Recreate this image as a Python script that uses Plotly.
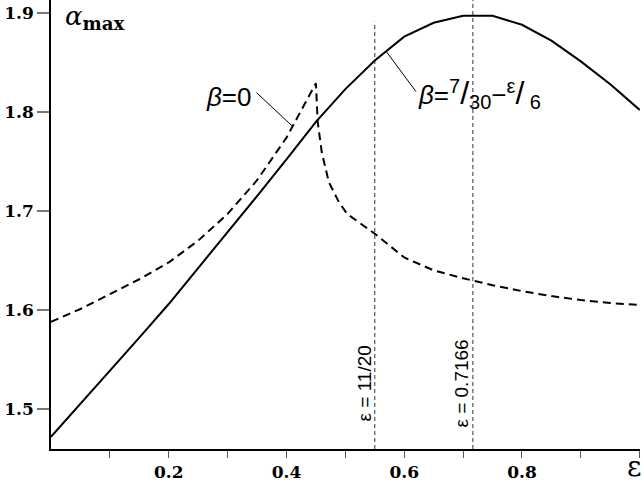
import plotly.graph_objects as go

# beta = 7/30 - eps/6 (solid)
eps_solid = [0, 0.05, 0.1, 0.15, 0.2, 0.25, 0.3, 0.35, 0.4, 0.45, 0.5,
             0.55, 0.6, 0.65, 0.7, 0.75, 0.8, 0.85, 0.9, 0.95, 1.0]
alpha_solid = [1.472, 1.505, 1.538, 1.572, 1.606, 1.642, 1.678, 1.715, 1.752, 1.790, 1.823,
               1.852, 1.876, 1.890, 1.897, 1.897, 1.888, 1.872, 1.851, 1.828, 1.802]

# beta = 0 (dashed)
eps_dash = [0, 0.05, 0.1, 0.15, 0.2, 0.25, 0.3, 0.35, 0.4, 0.45, 0.453, 0.46, 0.472,
            0.489, 0.503, 0.526, 0.55, 0.6, 0.65, 0.7, 0.75, 0.8, 0.85, 0.9, 0.95, 1.0]
alpha_dash = [1.588, 1.601, 1.616, 1.631, 1.648, 1.670, 1.697, 1.731, 1.774, 1.829, 1.790, 1.759, 1.729,
              1.709, 1.697, 1.687, 1.677, 1.653, 1.640, 1.632, 1.625, 1.619, 1.614, 1.610, 1.607, 1.605]

# vertical reference lines
vline_eps = [0.55, 0.7166]
vline_top = [1.891, 1.913]
vline_labels = ["ε = 11/20", "ε = 0.7166"]

# leader lines for the curve labels
lead_b0_x = [0.349, 0.411]
lead_b0_y = [1.8195, 1.785]
lead_b7_x = [0.570, 0.620]
lead_b7_y = [1.8606, 1.8205]

y_ticks = [1.5, 1.6, 1.7, 1.8, 1.9]
x_ticks = [0.2, 0.4, 0.6, 0.8]
x_minor = [0.1, 0.3, 0.5, 0.7, 0.9, 1.0]

y_lo, y_hi = 1.4596, 1.913

fig = go.Figure()

for xv, top in zip(vline_eps, vline_top):
    fig.add_trace(go.Scatter(x=[xv, xv], y=[y_lo, top], mode='lines',
                             line=dict(color='#333', width=1, dash='4px,3px'),
                             hoverinfo='skip'))

fig.add_trace(go.Scatter(x=eps_solid, y=alpha_solid, mode='lines',
                         line=dict(color='black', width=2)))
fig.add_trace(go.Scatter(x=eps_dash, y=alpha_dash, mode='lines',
                         line=dict(color='black', width=2, dash='8px,5px')))
fig.add_trace(go.Scatter(x=lead_b0_x, y=lead_b0_y, mode='lines',
                         line=dict(color='black', width=1)))
fig.add_trace(go.Scatter(x=lead_b7_x, y=lead_b7_y, mode='lines',
                         line=dict(color='black', width=1)))

tick_font = dict(family='DejaVu Serif', size=17, color='black', weight='bold')

fig.update_layout(
    width=642, height=487,
    margin=dict(l=51, r=2, t=0, b=38),
    plot_bgcolor='white', paper_bgcolor='white',
    showlegend=False,
    xaxis=dict(range=[0, 1.0005], tickvals=x_ticks, ticktext=[str(v) for v in x_ticks],
               ticks='outside', ticklen=7, tickcolor='#555', tickwidth=1,
               showline=True, linecolor='black', linewidth=1.5, automargin=False,
               showgrid=False, zeroline=False, tickfont=tick_font,
               minor=dict(tickvals=x_minor, ticks='outside', ticklen=7,
                          tickcolor='#555', showgrid=False)),
    yaxis=dict(range=[y_lo, y_hi], tickvals=y_ticks, ticktext=[str(v) for v in y_ticks],
               ticks='outside', ticklen=12, tickcolor='#777', tickwidth=1.5,
               showline=True, linecolor='black', linewidth=1.5, automargin=False,
               showgrid=False, zeroline=False, tickfont=tick_font),
)

sup = "<sup><span style='font-size:20px'>{}</span></sup>"
sub = "<sub><span style='font-size:20px'>{}</span></sub>"
slash = "<span style='font-size:32px'>/</span>"

annotations = [
    dict(xref='paper', yref='paper', x=0.02, y=0.962, xanchor='left', yanchor='middle',
         text="<i>α</i><sub><b>max</b></sub>", showarrow=False,
         font=dict(family='DejaVu Serif', size=26, color='black')),
    dict(xref='paper', yref='paper', x=0.991, y=-0.038, xanchor='center', yanchor='middle',
         text="ε", showarrow=False,
         font=dict(family='DejaVu Serif', size=28, color='black')),
    dict(x=0.303, y=1.815, xanchor='center', yanchor='middle',
         text="<i>β</i>=0", showarrow=False,
         font=dict(family='Liberation Sans', size=26, color='black')),
    dict(x=0.620, y=1.818, xanchor='left', yanchor='middle',
         text="<i>β</i>=" + sup.format("7") + slash + sub.format("30") + "−"
              + sup.format("ε") + slash + sub.format(" 6"),
         showarrow=False,
         font=dict(family='Liberation Sans', size=26, color='black')),
]
label_x = [0.532, 0.697]
for lx, txt in zip(label_x, vline_labels):
    annotations.append(dict(x=lx, y=1.526, xanchor='center', yanchor='middle', text=txt,
                            textangle=-90, showarrow=False,
                            font=dict(family='Liberation Sans', size=19, color='black')))
fig.update_layout(annotations=annotations)

# drop the default page margin so the figure sits at the window's corner
fig.write_html("out.html", config={'displayModeBar': False},
               post_script="document.body.style.margin='0';")
